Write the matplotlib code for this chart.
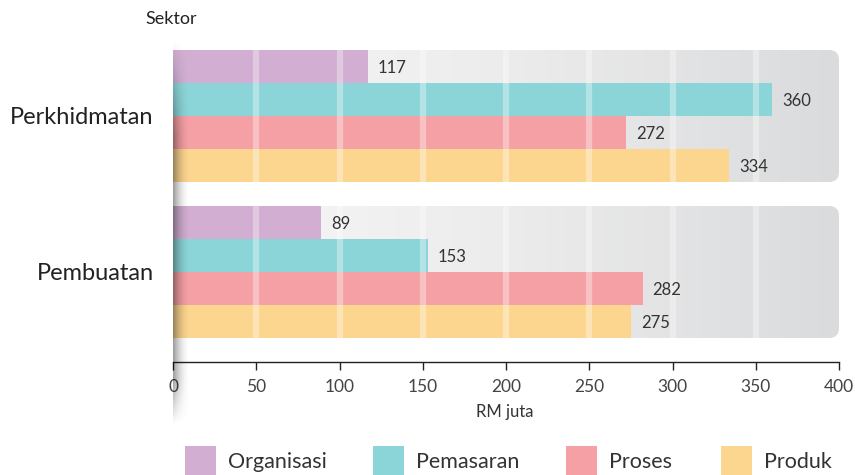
import numpy as np
import matplotlib
matplotlib.use("Agg")
import matplotlib.pyplot as plt
from matplotlib.patches import FancyBboxPatch, Rectangle
from matplotlib.colors import LinearSegmentedColormap

plt.rcParams['font.family'] = ['Lato', 'DejaVu Sans']

sectors = ["Perkhidmatan", "Pembuatan"]
series = ["Organisasi", "Pemasaran", "Proses", "Produk"]
values = {
    "Organisasi": [117, 89],
    "Pemasaran": [360, 153],
    "Proses": [272, 282],
    "Produk": [334, 275],
}
colors = ["#d1aed2", "#8bd5d8", "#f5a0a4", "#fcd68f"]
ticks = [0, 50, 100, 150, 200, 250, 300, 350, 400]

W, H = 855, 475
fig = plt.figure(figsize=(W / 100, H / 100), dpi=100)
# axes: x from px 173 to 839, y from px 40 to 362
ax = fig.add_axes([173 / W, (H - 362) / H, (839 - 173) / W, (362 - 40) / H])

bar_h = 1.0
centers = [2.303, 7.03]
offsets = [-1.5, -0.5, 0.5, 1.5]

bg_cmap = LinearSegmentedColormap.from_list("bg", ["#f8f8f8", "#ececec", "#dadbdd"])
grad = np.linspace(0, 1, 256).reshape(1, -1)

for c in centers:
    y0 = c - 2 * bar_h
    patch = FancyBboxPatch((0, y0), 400, 4 * bar_h,
                           boxstyle="round,pad=0,rounding_size=6",
                           mutation_aspect=0.05, facecolor="none",
                           edgecolor="none", zorder=0)
    ax.add_patch(patch)
    im = ax.imshow(grad, cmap=bg_cmap, aspect="auto",
                   extent=[0, 400, y0 + 4 * bar_h, y0], zorder=0)
    im.set_clip_path(patch)

for k, name in enumerate(series):
    ys = [c + offsets[k] for c in centers]
    ax.barh(ys, values[name], height=bar_h, color=colors[k], zorder=2)
    for y, v in zip(ys, values[name]):
        ax.text(v + 6, y + 0.05, str(v), va="center", ha="left",
                fontsize=12, color="#333333", zorder=4)

# white translucent grid stripes inside the panels
for c in centers:
    ax.vlines(ticks[1:-1], c - 2 * bar_h, c + 2 * bar_h, colors="white",
              linewidth=4.5, alpha=0.35, zorder=3)

ax.set_xlim(0, 400)
ax.set_ylim(9.758, 0)
ax.set_xticks(ticks)
ax.tick_params(axis="x", length=6, width=1, color="#222222",
               labelsize=12.5, labelcolor="#444444", pad=6)
ax.set_yticks(centers)
ax.set_yticklabels(sectors, fontsize=17, color="#222222")
ax.tick_params(axis="y", length=0, pad=14)
for s in ["top", "right", "left"]:
    ax.spines[s].set_visible(False)
ax.spines["bottom"].set_color("#222222")
ax.spines["bottom"].set_linewidth(1)
ax.patch.set_alpha(0)

# left edge shadow
sh = fig.add_axes([173 / W, (H - 425) / H, 18 / W, (425 - 40) / H])
xs = np.linspace(0, 1, 64)
yy = np.linspace(0, 1, 256)
x_fade = (1 - xs) ** 2
y_fade = np.clip(np.minimum(yy / 0.12, (1 - yy) / 0.25), 0, 1)
alpha = 0.4 * np.outer(y_fade, x_fade)
rgba = np.zeros((256, 64, 4))
rgba[..., 3] = alpha
sh.imshow(rgba, aspect="auto", extent=[0, 1, 0, 1], origin="lower")
sh.axis("off")

fig.text(145 / W, 1 - 19 / H, "Sektor", fontsize=13, color="#222222",
         ha="left", va="center")
fig.text(505 / W, 1 - 412 / H, "RM juta", fontsize=12, color="#333333",
         ha="center", va="center")

# legend
legend_x = [185, 373, 566, 721]
for k, name in enumerate(series):
    x = legend_x[k]
    fig.patches.append(Rectangle((x / W, 0), 31 / W, 29 / H,
                                 transform=fig.transFigure, facecolor=colors[k],
                                 edgecolor="none"))
    fig.text((x + 43) / W, 1 - 462 / H, name, fontsize=15.5, color="#333333",
             ha="left", va="center")

fig.savefig("out.png", dpi=100)
